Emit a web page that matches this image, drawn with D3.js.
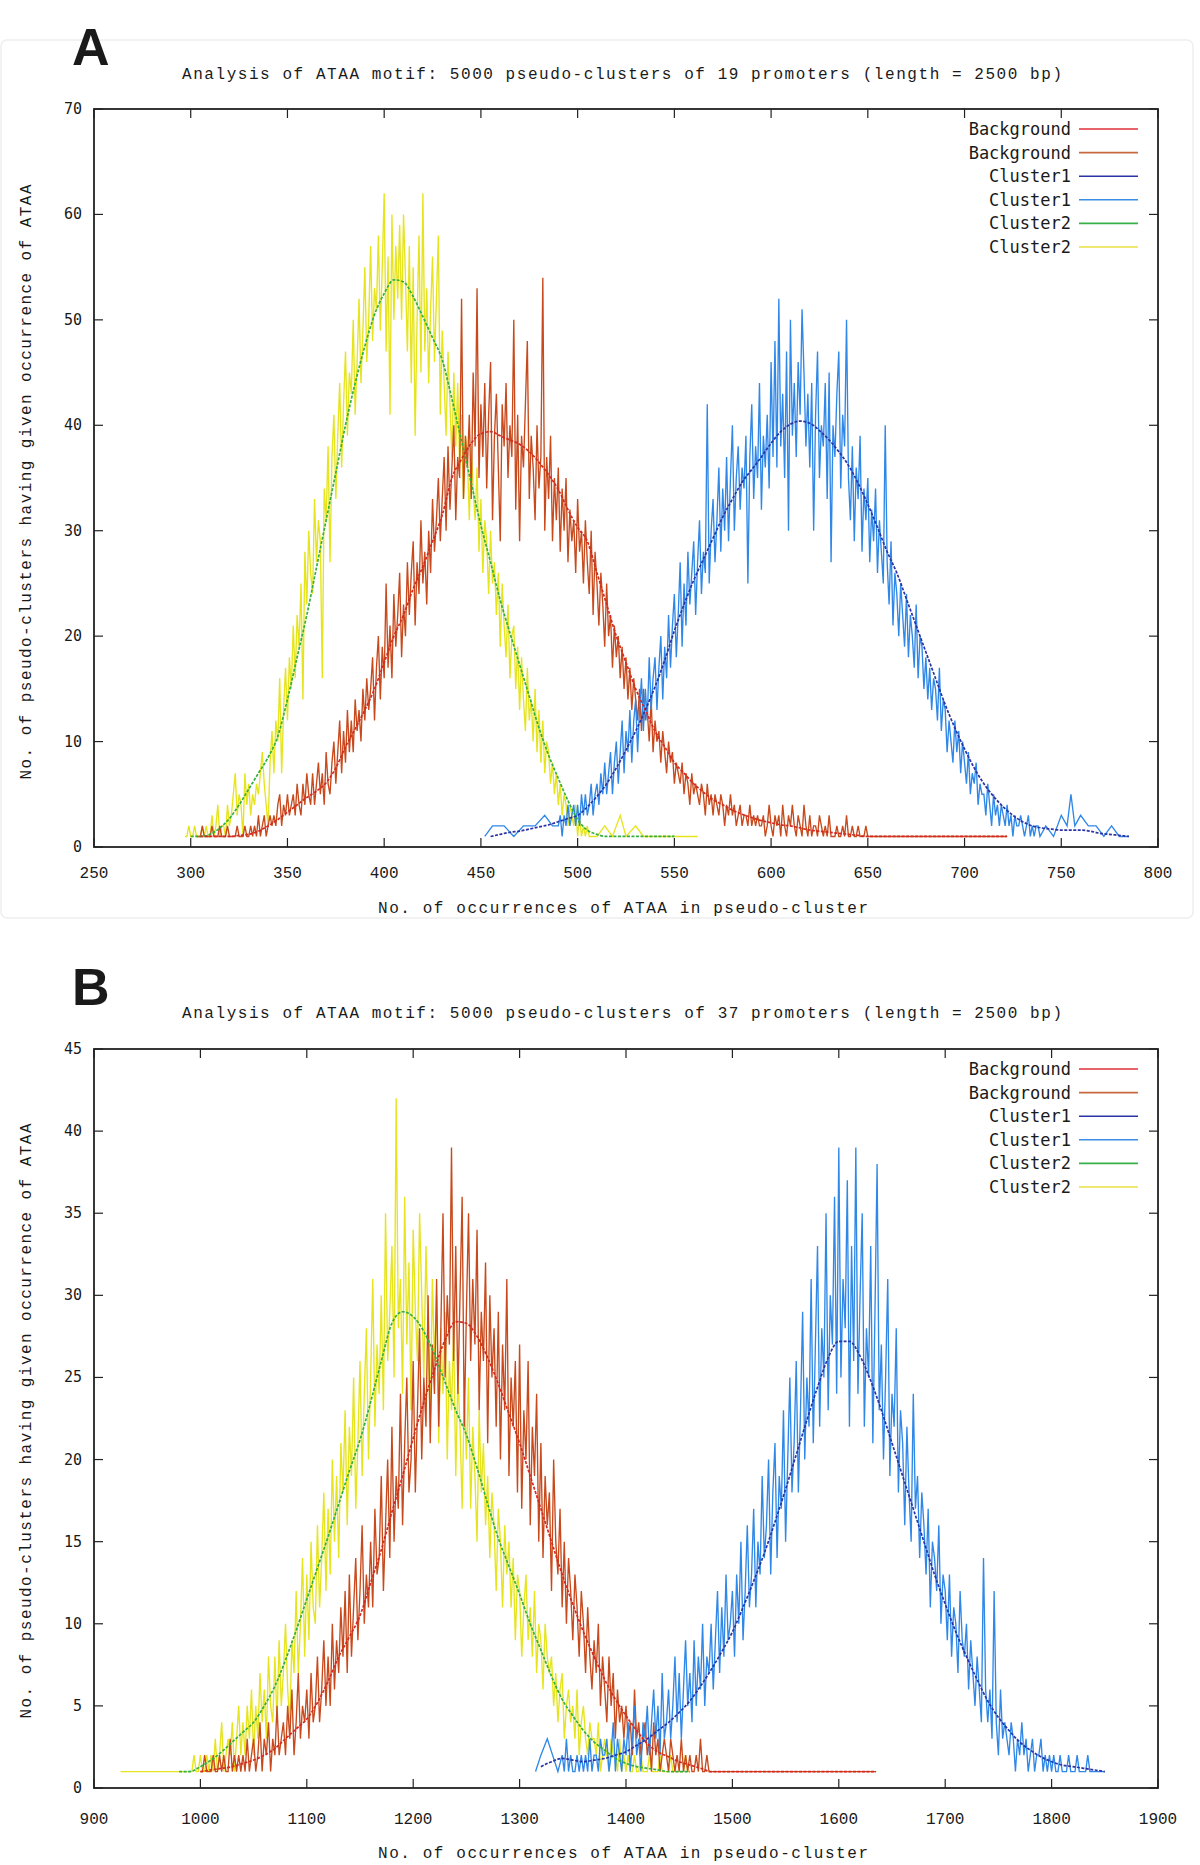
<!DOCTYPE html>
<html lang="en">
<head>
<meta charset="UTF-8">
<title>ATAA motif pseudo-clusters</title>
<script src="https://d3js.org/d3.v7.min.js"></script>
<style>
  body { margin: 0; background: #fff; }
  svg text { fill: #1a1a1a; }
</style>
</head>
<body>
<div id="chart"></div>
<script>
// ---------- Panel A: 19 promoters, occurrence counts 250..800 ----------
const aTitle = "Analysis of ATAA motif: 5000 pseudo-clusters of 19 promoters (length = 2500 bp)";
const aXTicks = [250, 300, 350, 400, 450, 500, 550, 600, 650, 700, 750, 800];
const aYTicks = [0, 10, 20, 30, 40, 50, 60, 70];

// Background, raw counts (x = 303, 304, ...)
const aBgRawStart = 303;
const aBgRaw = [
  1,1,1,2,1,1,1,1,2,1, 1,1,2,1,1,1,2,1,1,1, 1,2,1,1,1,2,1,1,2,1,
  2,1,3,1,2,3,1,2,3,2, 3,2,4,5,2,4,3,5,3,4, 5,3,6,4,3,6,4,7,5,4,
  7,4,6,8,5,7,4,9,6,5, 8,10,6,9,12,7,11,8,13,9, 12,9,14,11,13,10,15,12,16,13,
  15,18,12,17,20,14,19,16,25,17, 21,16,24,19,22,26,18,23,20,27, 22,26,29,21,27,24,31,25,28,23,
  30,26,33,28,31,35,29,33,37,30, 38,32,36,40,31,37,35,52,33,39, 36,41,33,45,38,53,35,42,37,44,
  34,41,46,31,39,43,36,29,42,38, 44,35,40,37,50,32,41,29,39,36, 42,48,33,39,36,31,40,34,37,54,
  30,37,33,39,29,35,31,36,28,34, 30,35,27,32,29,31,26,33,28,30, 25,31,27,24,30,22,28,25,21,26,
  23,19,25,20,22,17,21,18,20,16, 19,15,18,14,17,13,16,14,12,15, 11,15,12,13,10,14,9,12,10,11,
  8,11,9,7,10,8,9,6,8,7, 6,8,5,7,6,4,7,5,6,5, 4,6,5,3,6,4,5,3,5,4,
  3,5,4,2,4,3,5,3,4,2, 3,4,2,3,3,2,4,2,3,2, 3,2,2,3,1,2,4,2,1,3,
  2,3,1,4,2,1,3,2,4,2, 1,3,2,1,4,2,1,3,1,2, 2,1,3,2,1,2,1,3,1,1,
  1,2,1,1,2,1,3,1,1,2, 1,1,2,1,1,1,2,1,1,1
];
const aBgRawTail = [[656, 1], [660, 1], [668, 1], [675, 1], [690, 1], [722, 1]];

// Background, smoothed (x = 305, 310, ...)
const aBgSmoothStart = 305;
const aBgSmooth = [
  1,1,1,1,1.1,1.2,1.5,2,2.6,3.3,4,4.7,5.3,6.1,7.5,9.5,11.2,13,15,17.5,
  20,22,24.5,26.6,29,31.5,35,36.8,38.3,39.2,39.4,39,38.6,38.2,37.5,36.5,35.3,33.9,32,30.3,
  29,26,23,20,17.5,15,13,11,9.5,8,7,6,5.2,4.5,4,3.5,3.1,2.8,2.5,2.3,
  2.1,2,1.8,1.6,1.5,1.4,1.3,1.2,1.1,1,1
];
const aBgSmoothTail = [[722, 1]];

// Cluster1, raw counts (x = 490, 491, ...)
const aC1RawHead = [[452, 1], [456, 2], [462, 2], [467, 1], [472, 2], [478, 2], [483, 3], [487, 2]];
const aC1RawStart = 490;
const aC1Raw = [
  2,3,1,3,2,4,2,3,4,2, 4,2,5,3,5,3,4,6,3,5, 6,4,7,5,8,5,7,9,5,8,
  10,6,9,12,7,11,9,13,8,12, 14,9,13,16,11,15,12,18,13,16, 18,13,17,20,14,19,16,22,17,21,
  24,18,22,27,19,25,21,28,23,26, 29,22,27,31,24,28,26,42,25,30, 33,27,31,36,28,34,30,37,29,35,
  40,30,35,38,32,36,34,39,25,37, 42,33,38,35,44,32,39,36,41,34, 46,37,48,36,52,38,43,35,47,30,
  50,39,44,37,46,41,51,45,38,43, 36,44,30,41,47,35,40,38,44,33, 45,27,40,37,43,47,34,41,38,50,
  35,31,38,29,36,33,39,28,34,31, 35,27,32,29,34,26,31,28,25,40, 27,23,29,21,26,24,20,25,22,19,
  24,18,22,20,17,23,16,20,19,15, 18,14,17,13,16,15,12,17,11,14, 13,9,12,10,8,12,9,11,7,10,
  8,6,9,5,7,6,8,4,6,5, 5,3,6,4,2,5,3,4,2,4, 3,2,4,2,3,1,3,2,2,3,
  2,1,2,3,1,2,1,2,2,1
];
const aC1RawTail = [[742, 2], [746, 1], [750, 3], [753, 2], [755, 5], [757, 2], [760, 3], [764, 2],
  [768, 2], [772, 1], [776, 2], [780, 1], [785, 1]];

// Cluster1, smoothed (x = 455, 460, ...)
const aC1SmoothStart = 455;
const aC1Smooth = [
  1,1.2,1.4,1.5,1.7,1.9,2.1,2.4,2.7,3,3.8,4.8,6,7.5,9.2,11,13,15.2,17.7,20.5,
  23,25.3,27.3,29.3,31.3,33,34.6,35.8,37,38.3,39.4,40.1,40.4,40.2,39.5,38.6,37.5,36.2,34.5,32.5,
  30.3,28,26,23.5,21,18.5,16,13.5,11.3,9.3,7.5,6,4.8,3.8,3,2.4,2,1.8,1.7,1.6,
  1.6,1.6,1.5,1.3,1.2,1.1,1
];

// Cluster2, raw counts (x = 297, 298, ...)
const aC2RawStart = 297;
const aC2Raw = [
  1,1,2,1,1,2,1,1,1,2, 1,2,1,1,3,1,2,4,1,2, 2,1,4,2,3,5,7,3,5,4,
  1,7,4,6,3,5,4,6,5,7, 9,6,4,2,8,11,7,12,10,16, 7,13,17,12,18,15,21,16,22,19,
  25,14,28,23,30,26,24,33,27,31, 29,16,34,31,38,27,37,41,33,39, 44,36,42,47,39,45,43,50,41,46,
  52,44,49,55,46,50,57,48,53,51, 58,49,55,62,47,56,41,60,50,57, 52,59,50,60,54,47,57,44,55,39,
  50,58,45,62,47,53,44,51,56,46, 52,58,41,49,44,39,47,42,37,45, 38,44,36,41,33,39,37,31,38,34,
  31,36,28,33,26,31,29,24,30,25, 27,22,26,19,25,21,18,23,16,20, 21,15,19,13,18,14,11,17,12,14,
  10,15,9,13,8,12,7,10,9,6, 8,5,7,4,6,3,5,4,2,4, 3,2,4,1,3,1,2,1,2,1
];
const aC2RawTail = [[510, 1], [514, 2], [518, 1], [522, 3], [525, 1], [530, 2], [534, 1],
  [540, 1], [548, 1], [555, 1], [562, 1]];

// Cluster2, smoothed (x = 300, 305, ...)
const aC2SmoothStart = 300;
const aC2Smooth = [
  1,1,1.2,1.8,2.7,4,5.5,7,8.5,10.5,14,18,22,26.5,31,35.5,40,44,47.5,50.5,
  52.5,53.8,53.6,52.2,50.3,48.3,46.2,42.5,38.5,34.5,30.5,27,23.4,20.3,17.3,14.3,11.3,8.7,6.5,4.4,
  2.6,1.6,1.2,1,1,1,1,1,1,1,1
];

// ---------- Panel B: 37 promoters, occurrence counts 900..1900 ----------
const bTitle = "Analysis of ATAA motif: 5000 pseudo-clusters of 37 promoters (length = 2500 bp)";
const bXTicks = [900, 1000, 1100, 1200, 1300, 1400, 1500, 1600, 1700, 1800, 1900];
const bYTicks = [0, 5, 10, 15, 20, 25, 30, 35, 40, 45];

// Background, raw counts (x = 1000, 1002, ...)
const bBgRawStart = 1000;
const bBgRaw = [
  1,1,2,1,1,1,2,1,1,2, 1,2,1,1,3,1,2,1,2,1, 2,1,3,1,2,3,1,2,4,1,
  3,2,4,1,3,2,5,2,3,4, 2,5,3,6,2,4,7,3,5,4, 6,3,7,4,5,8,4,6,9,5,
  8,5,10,6,9,7,11,8,12,7, 13,8,11,14,9,12,16,10,13,11, 15,11,17,13,14,19,12,16,20,14,
  22,15,19,17,24,16,21,25,18,20, 26,18,23,28,20,25,22,30,21,27, 24,31,22,28,35,25,30,27,39,26,
  33,24,30,36,22,29,35,26,31,27, 34,23,29,26,32,21,30,25,28,22, 29,20,27,23,31,19,25,22,26,18,
  27,17,23,20,26,16,22,19,24,15, 21,14,19,16,18,12,20,15,13,17, 11,15,10,14,12,9,13,11,8,12,
  10,7,11,8,6,9,7,10,5,8, 6,4,8,5,7,3,6,4,5,3, 5,3,4,2,6,3,4,2,3,4,
  2,3,1,4,2,3,1,2,3,2, 1,3,2,1,2,1,3,1,2,1, 2,1,1,2,1,3,1,1,2,1,
  1
];
const bBgRawTail = [[1490, 1], [1505, 1], [1520, 1], [1560, 1], [1600, 1], [1635, 1]];

// Background, smoothed (x = 1000, 1010, ...)
const bBgSmoothStart = 1000;
const bBgSmooth = [
  1,1.1,1.2,1.3,1.5,1.7,2,2.4,3,3.6,4.2,5.2,6.5,8,9.2,10.5,12.5,14.5,16.8,19,
  21.3,23.5,25.5,27.3,28.4,28.3,27.5,26.2,24.6,22.8,21,19,17,15,13,11.2,9.5,8,6.6,5.4,
  4.4,3.5,2.7,2.2,1.9,1.6,1.4,1.2,1
];
const bBgSmoothTail = [[1635, 1]];

// Cluster1, raw counts (x = 1340, 1342, ...)
const bC1RawHead = [[1315, 1], [1320, 2], [1326, 3], [1331, 2], [1336, 1]];
const bC1RawStart = 1340;
const bC1Raw = [
  2,1,3,1,2,1,1,2,1,2, 1,2,1,3,1,2,2,1,3,2, 2,3,1,2,4,1,3,2,1,3,
  2,4,1,3,5,2,3,1,4,3, 5,2,4,6,3,5,2,7,3,4, 6,3,5,8,4,7,3,6,9,5,
  7,4,9,5,8,6,10,5,8,7, 10,6,9,12,7,11,8,13,9,10, 12,8,13,10,15,9,12,16,11,13,
  17,11,15,13,19,14,16,20,13,18, 21,14,19,17,23,15,20,25,18,21, 26,18,23,29,20,25,22,31,21,27,
  33,22,28,25,35,23,30,27,36,24, 39,25,31,28,37,22,33,26,39,24, 30,35,22,28,25,33,21,29,38,23,
  27,20,25,31,19,24,22,28,18,23, 21,16,22,18,15,24,17,19,14,18, 16,13,17,11,15,14,12,16,10,13,
  12,9,13,8,11,10,7,12,9,8, 10,6,9,7,5,8,6,4,14,6, 4,6,3,12,4,2,6,3,4,3,
  2,4,3,1,3,2,4,2,3,1, 2,3,1,2,2,3,1,2,1,2, 1,2,1,1,2,1,1,1,2,1,
  1,1,2,1,1,1,1,2,1,1, 1,1,1,1
];
const bC1RawTail = [[1850, 1]];

// Cluster1, smoothed (x = 1320, 1330, ...)
const bC1SmoothStart = 1320;
const bC1Smooth = [
  1.3,1.6,1.8,1.7,1.6,1.7,1.8,2,2.2,2.6,3,3.5,4,4.6,5.3,6.2,7.2,8.3,9.5,11,
  12.6,14.3,16.2,18.2,20.3,22.4,24.4,26.2,27.2,27.2,26.3,24.8,23,21,19,17,15,13,11.2,9.5,
  8,6.6,5.3,4.3,3.5,2.8,2.3,1.9,1.6,1.4,1.3,1.2,1.1,1
];

// Cluster2, raw counts (x = 990, 992, ...)
const bC2RawHead = [[925, 1], [950, 1], [975, 1], [985, 1]];
const bC2RawStart = 990;
const bC2Raw = [
  1,1,2,1,1,2,1,1,2,1, 2,1,3,1,2,4,1,2,3,2, 4,1,3,5,2,4,2,5,3,6,
  2,5,3,7,4,6,3,8,5,4, 8,4,9,5,7,10,6,4,9,7, 12,7,10,14,8,13,9,15,11,10,
  16,11,14,18,12,17,13,20,15,19, 14,21,18,23,16,22,19,25,17,21, 26,19,24,28,20,25,31,22,27,24,
  30,23,35,26,29,33,25,42,28,31, 24,36,27,32,23,34,29,26,35,30, 25,33,28,22,31,26,30,21,28,24,
  29,20,26,23,28,19,25,22,17,24, 20,25,17,22,19,15,23,18,21,16, 19,14,18,16,12,17,15,11,16,13,
  15,11,14,9,13,12,8,11,13,9, 11,8,12,7,10,9,6,10,8,7, 8,5,7,4,6,7,3,5,6,4,
  5,3,6,2,4,5,3,2,4,3, 3,2,4,1,2,3,2,1,3,2, 2,1,3,1,2,1,2,1,1,2,
  1,1,2,1,1,1,2,1,1,1, 1,2,1,1,1,1,2,1,1,1, 1,1,1,2,1,1
];

// Cluster2, smoothed (x = 980, 990, ...)
const bC2SmoothStart = 980;
const bC2Smooth = [
  1,1,1.3,1.7,2.2,2.8,3.4,4,5,6.2,7.8,9.6,11.5,13.4,15.3,17.3,19.3,21.2,23.5,26,
  28.3,29,28.7,27.8,26.4,24.7,23,21.5,19.5,17.3,15.2,13.5,11.8,10,8.4,6.8,5.4,4.4,3.5,2.8,
  2.3,1.8,1.5,1.3,1.2,1.1,1,1,1
];

const legendNames = ["Background", "Background", "Cluster1", "Cluster1", "Cluster2", "Cluster2"];
const xAxisLabel = "No. of occurrences of ATAA in pseudo-cluster";
const yAxisLabel = "No. of pseudo-clusters having given occurrence of ATAA";

// ---------- helpers ----------
// head points, then evenly stepped values, then tail points
function series(head, start, step, ys, tail) {
  return head.concat(ys.map((v, i) => [start + i * step, v]), tail);
}

const colors = {
  bgSmooth: "#d42a22", bgRaw: "#c84a1c",
  c1Smooth: "#2b34a6", c1Raw: "#2f88e8",
  c2Smooth: "#34b040", c2Raw: "#e6e41c"
};
const legendColors = ["#e0303a", "#c8683e", "#2b34a6", "#3a8ee6", "#38b048", "#e8e040"];

const panels = [
  {
    letter: "A", letterY: 65, title: aTitle, titleY: 79,
    top: 109, bottom: 847, xDomain: [250, 800], yDomain: [0, 70],
    xTicks: aXTicks, yTicks: aYTicks, xTickY: 878, xLabelY: 913, yLabelY: 482,
    legendY: 129,
    raw: [
      { d: series([], aC2RawStart, 1, aC2Raw, aC2RawTail), c: colors.c2Raw },
      { d: series([], aBgRawStart, 1, aBgRaw, aBgRawTail), c: colors.bgRaw },
      { d: series(aC1RawHead, aC1RawStart, 1, aC1Raw, aC1RawTail), c: colors.c1Raw }
    ],
    smooth: [
      { d: series([], aC2SmoothStart, 5, aC2Smooth, []), c: colors.c2Smooth },
      { d: series([], aBgSmoothStart, 5, aBgSmooth, aBgSmoothTail), c: colors.bgSmooth },
      { d: series([], aC1SmoothStart, 5, aC1Smooth, []), c: colors.c1Smooth }
    ]
  },
  {
    letter: "B", letterY: 1005, title: bTitle, titleY: 1018,
    top: 1049, bottom: 1788, xDomain: [900, 1900], yDomain: [0, 45],
    xTicks: bXTicks, yTicks: bYTicks, xTickY: 1824, xLabelY: 1858, yLabelY: 1421,
    legendY: 1069,
    raw: [
      { d: series(bC2RawHead, bC2RawStart, 2, bC2Raw, []), c: colors.c2Raw },
      { d: series([], bBgRawStart, 2, bBgRaw, bBgRawTail), c: colors.bgRaw },
      { d: series(bC1RawHead, bC1RawStart, 2, bC1Raw, bC1RawTail), c: colors.c1Raw }
    ],
    smooth: [
      { d: series([], bC2SmoothStart, 10, bC2Smooth, []), c: colors.c2Smooth },
      { d: series([], bBgSmoothStart, 10, bBgSmooth, bBgSmoothTail), c: colors.bgSmooth },
      { d: series([], bC1SmoothStart, 10, bC1Smooth, []), c: colors.c1Smooth }
    ]
  }
];

const width = 1200, height = 1865;
const left = 94, right = 1158;
const mono = "'Liberation Mono', 'DejaVu Sans Mono', monospace";

const svg = d3.select("#chart").append("svg")
  .attr("width", width).attr("height", height);

// faint scan border around panel A
svg.append("rect")
  .attr("x", 1).attr("y", 40).attr("width", 1192).attr("height", 878).attr("rx", 6)
  .attr("fill", "none").attr("stroke", "#eeeeee").attr("stroke-width", 1.5);

panels.forEach(p => {
  const x = d3.scaleLinear().domain(p.xDomain).range([left, right]);
  const y = d3.scaleLinear().domain(p.yDomain).range([p.bottom, p.top]);
  const g = svg.append("g");

  // panel letter
  g.append("text").attr("x", 72).attr("y", p.letterY)
    .style("font-family", "'Liberation Sans', Arial, sans-serif")
    .style("font-weight", "bold").style("font-size", "52px").text(p.letter);

  // title
  g.append("text").attr("x", 622).attr("y", p.titleY).attr("text-anchor", "middle")
    .attr("textLength", 880).attr("lengthAdjust", "spacing")
    .style("font-family", mono).style("font-size", "16px").text(p.title);

  // data lines
  const line = d3.line().x(d => x(d[0])).y(d => y(d[1]));
  p.raw.forEach(s => {
    g.append("path").datum(s.d).attr("d", line)
      .attr("fill", "none").attr("stroke", s.c).attr("stroke-width", 1.35);
  });
  const smoothLine = d3.line().x(d => x(d[0])).y(d => y(d[1])).curve(d3.curveMonotoneX);
  p.smooth.forEach(s => {
    g.append("path").datum(s.d).attr("d", smoothLine)
      .attr("fill", "none").attr("stroke", s.c).attr("stroke-width", 1.7)
      .attr("stroke-dasharray", "3,1.5");
  });

  // ticks (gnuplot-style, inward and mirrored)
  const tl = 9;
  p.xTicks.forEach(t => {
    g.append("line").attr("x1", x(t)).attr("x2", x(t)).attr("y1", p.bottom).attr("y2", p.bottom - tl)
      .attr("stroke", "#222").attr("stroke-width", 1.2);
    g.append("line").attr("x1", x(t)).attr("x2", x(t)).attr("y1", p.top).attr("y2", p.top + tl)
      .attr("stroke", "#222").attr("stroke-width", 1.2);
    g.append("text").attr("x", x(t)).attr("y", p.xTickY).attr("text-anchor", "middle")
      .style("font-family", mono).style("font-size", "16px").text(t);
  });
  p.yTicks.forEach(t => {
    g.append("line").attr("x1", left).attr("x2", left + tl).attr("y1", y(t)).attr("y2", y(t))
      .attr("stroke", "#222").attr("stroke-width", 1.2);
    g.append("line").attr("x1", right).attr("x2", right - tl).attr("y1", y(t)).attr("y2", y(t))
      .attr("stroke", "#222").attr("stroke-width", 1.2);
    g.append("text").attr("x", left - 12).attr("y", y(t) + 5).attr("text-anchor", "end")
      .style("font-family", "'DejaVu Sans Mono', monospace").style("font-size", "15px").text(t);
  });

  // frame
  g.append("rect").attr("x", left).attr("y", p.top)
    .attr("width", right - left).attr("height", p.bottom - p.top)
    .attr("fill", "none").attr("stroke", "#222").attr("stroke-width", 1.8);

  // axis labels
  g.append("text").attr("x", 623).attr("y", p.xLabelY).attr("text-anchor", "middle")
    .attr("textLength", 490).attr("lengthAdjust", "spacing")
    .style("font-family", mono).style("font-size", "16px").text(xAxisLabel);
  g.append("text").attr("transform", `translate(31,${p.yLabelY}) rotate(-90)`)
    .attr("text-anchor", "middle").attr("textLength", 595).attr("lengthAdjust", "spacing")
    .style("font-family", mono).style("font-size", "16px").text(yAxisLabel);

  // legend
  legendNames.forEach((name, i) => {
    const ly = p.legendY + i * 23.6;
    g.append("text").attr("x", 1071).attr("y", ly + 6).attr("text-anchor", "end")
      .style("font-family", "'DejaVu Sans Mono', monospace").style("font-size", "17px").text(name);
    g.append("line").attr("x1", 1079).attr("x2", 1138).attr("y1", ly).attr("y2", ly)
      .attr("stroke", legendColors[i]).attr("stroke-width", 1.6);
  });
});
</script>
</body>
</html>
